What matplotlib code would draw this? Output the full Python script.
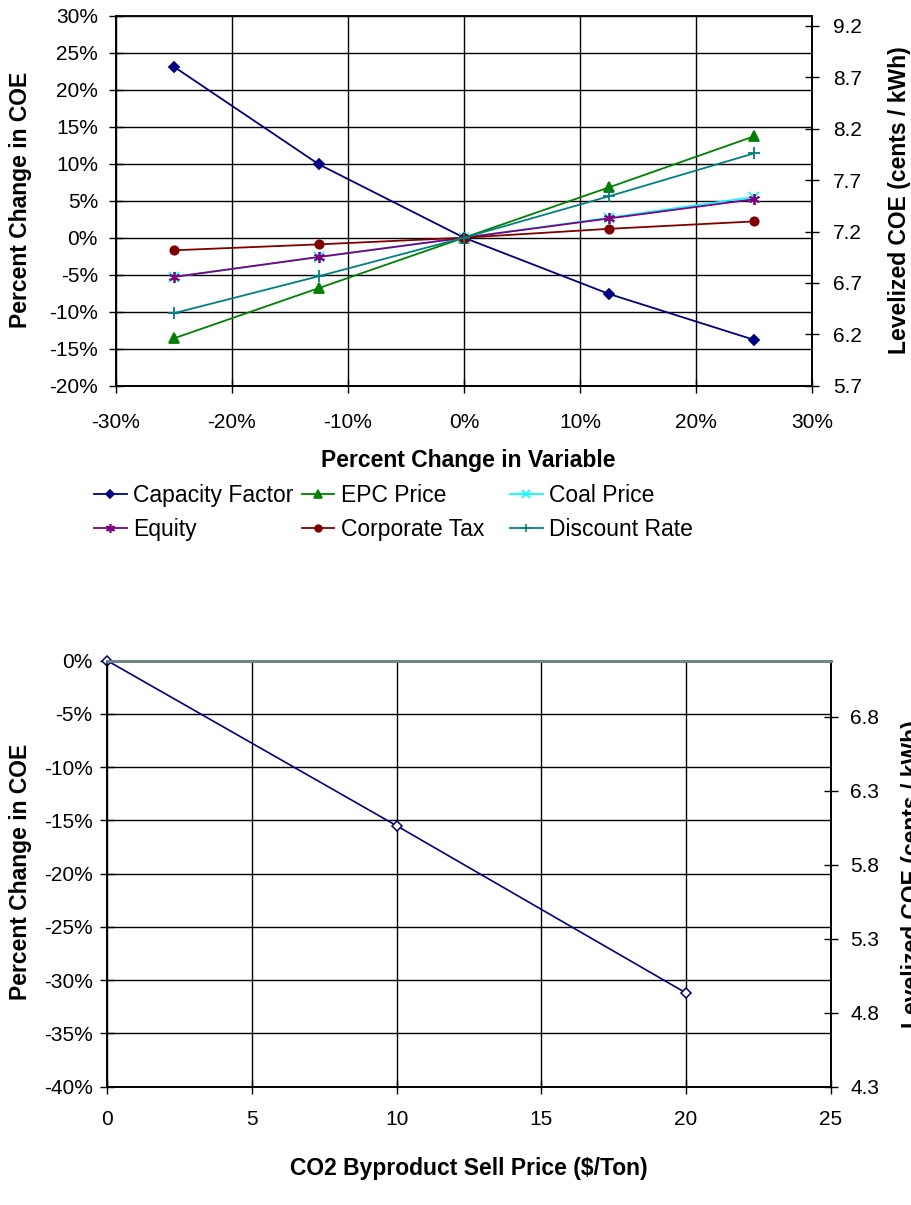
import matplotlib
matplotlib.use("Agg")
import matplotlib.pyplot as plt
from matplotlib.lines import Line2D
from matplotlib.ticker import FuncFormatter
import numpy as np

plt.rcParams['font.family'] = ['Liberation Sans', 'DejaVu Sans']

# Sensitivity of COE (%) to a change (%) in each input variable
variable_change = [-25, -12.5, 0, 12.5, 25]
capacity_factor = [23.1, 9.9, 0.0, -7.6, -13.8]
epc_price = [-13.6, -6.8, 0.0, 6.8, 13.7]
coal_price = [-5.3, -2.6, 0.0, 2.7, 5.5]
equity = [-5.3, -2.6, 0.0, 2.6, 5.2]
corporate_tax = [-1.7, -0.9, 0.0, 1.2, 2.2]
discount_rate = [-10.2, -5.2, 0.0, 5.6, 11.4]

series_names = ["Capacity Factor", "EPC Price", "Coal Price",
                "Equity", "Corporate Tax", "Discount Rate"]
series_values = [capacity_factor, epc_price, coal_price,
                 equity, corporate_tax, discount_rate]
series_colors = ["#000080", "#008000", "#00ffff",
                 "#800080", "#800000", "#008080"]
series_markers = ["D", "^", "x", (6, 2, 0), "o", "+"]
series_msizes = [5, 7, 7, 8, 6, 8]

# Effect of a CO2 byproduct sales credit on COE
co2_price = [0, 10, 20]
co2_coe_change = [0.0, -15.5, -31.2]

W, H = 912, 1205
fig = plt.figure(figsize=(W / 100, H / 100), dpi=100)


def px_rect(left, top, right, bottom):
    return [left / W, 1 - bottom / H, (right - left) / W, (bottom - top) / H]


pct_fmt = FuncFormatter(lambda v, p: f"{int(round(v))}%")
dec_fmt = FuncFormatter(lambda v, p: f"{v:.1f}")
TICK_FS = 15
LEGEND_FS = 16.5
LABEL_FS = 16.5

# ---------------- top chart ----------------
ax1 = fig.add_axes(px_rect(116, 15.7, 812, 385.7))
for vals, name, col, mk, ms in zip(series_values, series_names, series_colors,
                                    series_markers, series_msizes):
    ax1.plot(variable_change, vals, color=col, lw=1.3, marker=mk, ms=ms,
             mew=1.3, mec=col, mfc=col, label=name, zorder=3, clip_on=False)

ax1.set_xlim(-30, 30)
ax1.set_ylim(-20, 30)
ax1.set_xticks(np.arange(-30, 31, 10))
ax1.set_yticks(np.arange(-20, 31, 5))
ax1.xaxis.set_major_formatter(pct_fmt)
ax1.yaxis.set_major_formatter(pct_fmt)
ax1.grid(True, color="black", lw=1.0, zorder=0)
ax1.set_axisbelow(True)
ax1.tick_params(axis="x", direction="inout", length=10, width=1,
                labelsize=TICK_FS, pad=15)
ax1.tick_params(axis="y", direction="inout", length=10, width=1,
                labelsize=TICK_FS, pad=8)
for s in ax1.spines.values():
    s.set_linewidth(1.2)
ax1.spines["top"].set_color("#555555")

ax1r = ax1.twinx()
ax1r.set_ylim(5.7, 9.3)
ax1r.set_yticks(np.arange(5.7, 9.25, 0.5))
ax1r.yaxis.set_major_formatter(dec_fmt)
ax1r.tick_params(axis="y", direction="inout", length=10, width=1,
                 labelsize=TICK_FS, pad=10)
for s in ax1r.spines.values():
    s.set_linewidth(1.2)

fig.text(468 / W, 1 - 460 / H, "Percent Change in Variable", ha="center",
         va="center", fontsize=LABEL_FS, fontweight="bold")
fig.text(21 / W, 1 - 200 / H, "Percent Change in COE", ha="center",
         va="center", rotation=90, fontsize=LABEL_FS, fontweight="bold")
fig.text(900 / W, 1 - 200 / H, "Levelized COE (cents / kWh)", ha="center",
         va="center", rotation=90, fontsize=LABEL_FS, fontweight="bold")

# legend laid out as three fixed-width columns, two rows each
handles = [Line2D([], [], color=c, lw=1.3, marker=m, ms=ms * 0.8, mew=1.2,
                  mec=c, mfc=c)
           for c, m, ms in zip(series_colors, series_markers, series_msizes)]
col_x = [94, 301.7, 510]
for ci, x in enumerate(col_x):
    idx = [ci, ci + 3]
    fig.legend([handles[i] for i in idx], [series_names[i] for i in idx],
               loc="upper left", bbox_to_anchor=(x / W, 1 - 484 / H),
               frameon=False, fontsize=LEGEND_FS, borderpad=0,
               borderaxespad=0, handlelength=1.43, handletextpad=0.29,
               labelspacing=0.48)

# ---------------- bottom chart ----------------
ax2 = fig.add_axes(px_rect(107.3, 660.7, 830.7, 1086.7))
ax2.plot(co2_price, co2_coe_change, color="#000080", lw=1.2, marker="D",
         ms=5, mew=1.1, mec="#000080", mfc="white", zorder=3, clip_on=False)
ax2.set_xlim(0, 25)
ax2.set_ylim(-40, 0)
ax2.set_xticks(np.arange(0, 26, 5))
ax2.set_yticks(np.arange(-40, 1, 5))
ax2.yaxis.set_major_formatter(pct_fmt)
ax2.grid(True, color="black", lw=1.0, zorder=0)
ax2.set_axisbelow(True)
ax2.tick_params(axis="x", direction="inout", length=10, width=1,
                labelsize=TICK_FS, pad=12)
ax2.tick_params(axis="y", direction="inout", length=10, width=1,
                labelsize=TICK_FS, pad=5.5)
for s in ax2.spines.values():
    s.set_linewidth(1.2)
ax2.spines["top"].set_color("#708585")
ax2.spines["top"].set_linewidth(2)

ax2r = ax2.twinx()
ax2r.set_ylim(4.3, 7.18)
ax2r.set_yticks(np.arange(4.3, 6.85, 0.5))
ax2r.yaxis.set_major_formatter(dec_fmt)
ax2r.tick_params(axis="y", direction="inout", length=10, width=1,
                 labelsize=TICK_FS, pad=9)
for s in ax2r.spines.values():
    s.set_linewidth(1.2)
ax2r.spines["top"].set_color("#708585")
ax2r.spines["top"].set_linewidth(2)

fig.text(469 / W, 1 - 1168 / H, "CO2 Byproduct Sell Price ($/Ton)",
         ha="center", va="center", fontsize=LABEL_FS, fontweight="bold")
fig.text(21 / W, 1 - 872 / H, "Percent Change in COE", ha="center",
         va="center", rotation=90, fontsize=LABEL_FS, fontweight="bold")
fig.text(913 / W, 1 - 874 / H, "Levelized COE (cents / kWh)", ha="center",
         va="center", rotation=90, fontsize=LABEL_FS, fontweight="bold")

fig.savefig("out.png", dpi=100)
